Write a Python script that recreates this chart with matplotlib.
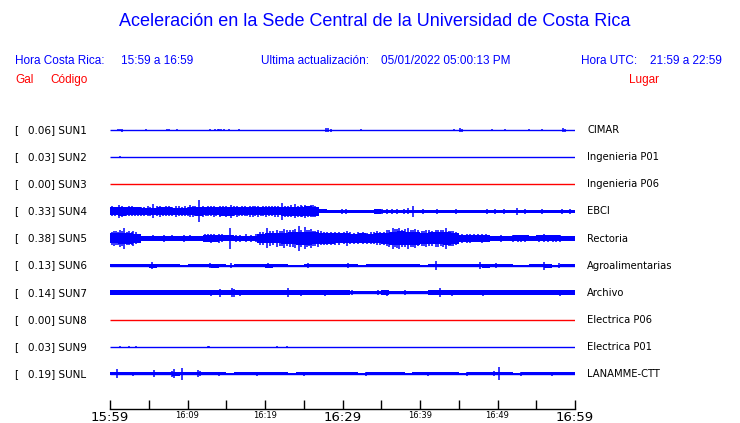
import numpy as np
import matplotlib
matplotlib.use("Agg")
import matplotlib.pyplot as plt

W, H = 740, 423

# station info (top to bottom)
codes = ["SUN1", "SUN2", "SUN3", "SUN4", "SUN5", "SUN6", "SUN7", "SUN8", "SUN9", "SUNL"]
peaks = [0.06, 0.03, 0.00, 0.33, 0.38, 0.13, 0.14, 0.00, 0.03, 0.19]
places = ["CIMAR", "Ingenieria P01", "Ingenieria P06", "EBCI", "Rectoria",
          "Agroalimentarias", "Archivo", "Electrica P06", "Electrica P01", "LANAMME-CTT"]
dead = ["SUN3", "SUN8"]

tick_min = [0, 5, 10, 15, 20, 25, 30, 35, 40, 45, 50, 55, 60]
tick_lab = ["15:59", "", "16:09", "", "16:19", "", "16:29", "", "16:39", "", "16:49", "", "16:59"]

# band level per minute (Gal)
core_sun4 = [0.12, 0.13, 0.12, 0.12, 0.105, 0.105, 0.12, 0.12, 0.11, 0.11,
             0.12, 0.13, 0.12, 0.12, 0.13, 0.13, 0.12, 0.12, 0.12, 0.12,
             0.12, 0.12, 0.13, 0.14, 0.14, 0.15, 0.14, 0.06, 0.055, 0.055,
             0.055, 0.055, 0.055, 0.055, 0.07, 0.055, 0.055, 0.055, 0.055, 0.055,
             0.055, 0.055, 0.055, 0.055, 0.055, 0.055, 0.055, 0.055, 0.055, 0.055,
             0.055, 0.055, 0.055, 0.055, 0.055, 0.055, 0.055, 0.055, 0.055, 0.05]
core_sun5 = [0.15, 0.16, 0.16, 0.14, 0.065, 0.065, 0.07, 0.065, 0.065, 0.065,
             0.065, 0.07, 0.10, 0.10, 0.09, 0.09, 0.08, 0.08, 0.08, 0.13,
             0.15, 0.15, 0.16, 0.18, 0.20, 0.20, 0.18, 0.16, 0.16, 0.15,
             0.15, 0.14, 0.15, 0.14, 0.15, 0.17, 0.20, 0.21, 0.20, 0.20,
             0.17, 0.18, 0.18, 0.19, 0.17, 0.11, 0.10, 0.10, 0.10, 0.07,
             0.065, 0.065, 0.09, 0.09, 0.07, 0.09, 0.09, 0.09, 0.065, 0.065]
core_sun6 = [0.05, 0.04, 0.05, 0.05, 0.05, 0.06, 0.05, 0.05, 0.05, 0.02,
             0.05, 0.04, 0.05, 0.06, 0.05, 0.02, 0.05, 0.05, 0.04, 0.05,
             0.06, 0.05, 0.05, 0.02, 0.03, 0.05, 0.05, 0.05, 0.04, 0.05,
             0.05, 0.05, 0.02, 0.05, 0.05, 0.05, 0.04, 0.05, 0.05, 0.05,
             0.02, 0.05, 0.05, 0.05, 0.05, 0.04, 0.05, 0.05, 0.06, 0.05,
             0.05, 0.04, 0.02, 0.03, 0.05, 0.05, 0.06, 0.02, 0.05, 0.05]
core_sun7 = [0.065, 0.065, 0.065, 0.065, 0.065, 0.065, 0.065, 0.065, 0.065, 0.065,
             0.065, 0.065, 0.065, 0.065, 0.065, 0.075, 0.065, 0.065, 0.065, 0.065,
             0.065, 0.065, 0.065, 0.065, 0.065, 0.065, 0.065, 0.065, 0.065, 0.065,
             0.065, 0.055, 0.055, 0.055, 0.055, 0.065, 0.055, 0.055, 0.055, 0.055,
             0.055, 0.065, 0.065, 0.065, 0.065, 0.065, 0.065, 0.065, 0.065, 0.065,
             0.065, 0.065, 0.065, 0.065, 0.065, 0.065, 0.065, 0.065, 0.065, 0.07]
core_sunl = [0.05, 0.05, 0.04, 0.05, 0.05, 0.05, 0.05, 0.05, 0.06, 0.05,
             0.04, 0.05, 0.045, 0.045, 0.04, 0.02, 0.045, 0.04, 0.045, 0.045,
             0.04, 0.045, 0.045, 0.02, 0.045, 0.045, 0.04, 0.045, 0.045, 0.045,
             0.04, 0.045, 0.02, 0.045, 0.045, 0.04, 0.045, 0.045, 0.02, 0.045,
             0.045, 0.04, 0.045, 0.045, 0.045, 0.02, 0.045, 0.045, 0.045, 0.045,
             0.05, 0.045, 0.02, 0.045, 0.045, 0.04, 0.045, 0.045, 0.045, 0.045]
cores = [None, None, None, core_sun4, core_sun5, core_sun6, core_sun7, None, None, core_sunl]

# spikes: (minute, half amplitude in Gal)
spk_sun1 = [(1.0, 0.03), (1.3, 0.03), (1.6, 0.04), (4.6, 0.03), (7.4, 0.035), (7.6, 0.035),
            (8.6, 0.03), (12.9, 0.03), (13.6, 0.03), (13.9, 0.035), (14.1, 0.035), (14.3, 0.03),
            (14.7, 0.03), (15.3, 0.03), (16.6, 0.03), (17.85, 0.02), (18.5, 0.02), (20.8, 0.02),
            (23.1, 0.02), (25.3, 0.02), (27.9, 0.06), (28.1, 0.06), (28.5, 0.04), (29.2, 0.02),
            (30.75, 0.02), (31.4, 0.02), (32.4, 0.025), (39.0, 0.02), (44.4, 0.03), (45.2, 0.06),
            (45.4, 0.05), (47.7, 0.02), (48.3, 0.02), (49.3, 0.03), (51.0, 0.03), (54.0, 0.03),
            (55.7, 0.03), (58.5, 0.06), (58.7, 0.05)]
spk_sun2 = [(1.3, 0.03)]
spk_sun4 = [(1.1, 0.19), (2.5, 0.15), (3.2, 0.14), (5.6, 0.21), (7.2, 0.15), (8.5, 0.16),
            (10.3, 0.18), (11.5, 0.33), (13.0, 0.15), (14.2, 0.16), (15.6, 0.20), (17.0, 0.15),
            (18.0, 0.16), (19.1, 0.17), (20.5, 0.15), (21.3, 0.16), (22.2, 0.25), (23.9, 0.21),
            (24.8, 0.17), (25.5, 0.16), (26.2, 0.18), (29.9, 0.08), (30.5, 0.08), (34.6, 0.08),
            (35.1, 0.08), (35.7, 0.08), (36.4, 0.08), (37.0, 0.08), (37.9, 0.08), (38.5, 0.09),
            (39.1, 0.16), (40.4, 0.08), (42.2, 0.08), (44.7, 0.08), (48.6, 0.08), (49.7, 0.08),
            (50.8, 0.08), (52.5, 0.10), (53.6, 0.08), (55.7, 0.08), (58.3, 0.08), (59.4, 0.07)]
fringe_sun4 = [(0.3, 0.15), (0.7, 0.14), (1.6, 0.16), (2.0, 0.14), (2.8, 0.15), (3.6, 0.13),
               (4.0, 0.14), (4.4, 0.13), (4.9, 0.15), (5.2, 0.14), (6.0, 0.15), (6.4, 0.16),
               (6.8, 0.14), (7.6, 0.15), (8.0, 0.14), (8.9, 0.15), (9.3, 0.14), (9.7, 0.15),
               (10.0, 0.14), (10.7, 0.16), (11.0, 0.15), (12.0, 0.16), (12.4, 0.14), (12.7, 0.15),
               (13.4, 0.16), (13.7, 0.14), (14.6, 0.15), (15.0, 0.16), (15.3, 0.14), (16.0, 0.15),
               (16.4, 0.16), (16.7, 0.14), (17.4, 0.15), (17.7, 0.14), (18.4, 0.16), (18.7, 0.15),
               (19.5, 0.14), (19.8, 0.15), (20.1, 0.16), (20.9, 0.15), (21.7, 0.16), (22.6, 0.17),
               (23.0, 0.16), (23.4, 0.18), (24.3, 0.17), (24.6, 0.18), (25.1, 0.19), (25.9, 0.18),
               (26.5, 0.16), (26.8, 0.14)]
spk_sun5 = [(0.5, 0.22), (1.3, 0.25), (1.85, 0.32), (3.0, 0.22), (7.0, 0.10), (9.5, 0.10),
            (13.0, 0.13), (14.0, 0.14), (15.5, 0.32), (17.5, 0.12), (20.3, 0.30), (21.5, 0.26),
            (22.5, 0.28), (23.9, 0.28), (24.4, 0.38), (25.1, 0.33), (25.9, 0.29), (26.8, 0.25),
            (30.6, 0.23), (34.5, 0.21), (35.3, 0.20), (36.5, 0.32), (37.3, 0.32), (38.5, 0.32),
            (39.4, 0.28), (40.8, 0.26), (42.0, 0.26), (43.3, 0.32), (44.2, 0.22), (46.0, 0.13),
            (47.5, 0.12), (50.5, 0.10), (53.0, 0.11), (56.0, 0.12), (58.0, 0.11)]
fringe_sun5 = [(0.2, 0.19), (0.8, 0.21), (1.0, 0.2), (1.6, 0.22), (2.2, 0.2), (2.5, 0.21),
               (2.8, 0.19), (3.3, 0.18), (4.5, 0.085), (5.5, 0.09), (6.3, 0.085), (8.0, 0.09),
               (8.7, 0.085), (10.3, 0.09), (11.2, 0.085), (12.3, 0.12), (12.6, 0.12), (13.4, 0.12),
               (14.5, 0.12), (16.2, 0.11), (16.8, 0.11), (18.2, 0.11), (18.8, 0.12), (19.3, 0.19),
               (19.7, 0.2), (20.7, 0.22), (21.0, 0.21), (21.9, 0.23), (22.2, 0.22), (22.9, 0.24),
               (23.2, 0.25), (23.6, 0.26), (24.7, 0.26), (25.4, 0.25), (25.7, 0.24), (26.2, 0.23),
               (26.5, 0.22), (27.2, 0.21), (27.6, 0.2), (28.0, 0.2), (28.5, 0.19), (29.0, 0.19),
               (29.5, 0.19), (30.2, 0.18), (31.0, 0.18), (31.5, 0.17), (32.0, 0.18), (32.6, 0.18),
               (33.1, 0.17), (33.7, 0.18), (34.1, 0.18), (34.8, 0.2), (35.7, 0.24), (36.0, 0.26),
               (36.8, 0.27), (37.0, 0.28), (37.7, 0.26), (38.0, 0.27), (38.9, 0.25), (39.1, 0.26),
               (39.7, 0.24), (40.2, 0.22), (40.5, 0.23), (41.1, 0.24), (41.5, 0.23), (42.3, 0.25),
               (42.7, 0.24), (43.0, 0.25), (43.7, 0.23), (44.0, 0.22), (44.6, 0.2), (45.4, 0.13),
               (46.5, 0.13), (47.0, 0.12), (48.0, 0.13), (48.5, 0.12), (49.5, 0.085), (51.2, 0.085),
               (52.0, 0.11), (52.6, 0.11), (53.5, 0.1), (54.2, 0.085), (55.3, 0.11), (56.5, 0.11),
               (57.2, 0.11), (57.6, 0.1), (59.0, 0.085), (59.5, 0.085)]
spk_sun6 = [(4.5, 0.05), (5.4, 0.11), (11.0, 0.05), (12.9, 0.08), (15.6, 0.07), (18.0, 0.05),
            (20.4, 0.07), (25.6, 0.07), (27.0, 0.05), (30.75, 0.07), (35.0, 0.05), (42.0, 0.13),
            (45.0, 0.05), (47.7, 0.11), (49.8, 0.08), (51.0, 0.05), (56.0, 0.12), (57.9, 0.07),
            (59.0, 0.05)]
spk_sun7 = [(0.56, 0.08), (2.9, 0.08), (4.1, 0.08), (5.4, 0.08), (6.8, 0.075), (8.1, 0.075),
            (8.8, 0.075), (10.6, 0.075), (11.8, 0.075), (13.0, 0.09), (14.2, 0.12), (15.8, 0.13),
            (16.0, 0.12), (16.8, 0.09), (23.0, 0.13), (24.7, 0.09), (26.2, 0.08), (27.7, 0.09),
            (28.2, 0.08), (30.3, 0.08), (31.2, 0.08), (34.6, 0.08), (35.7, 0.09), (38.0, 0.075),
            (42.6, 0.14), (44.1, 0.09), (45.3, 0.08), (48.1, 0.09), (58.1, 0.09), (59.2, 0.08),
            (59.6, 0.08)]
spk_sun9 = [(1.3, 0.02), (2.4, 0.02), (3.3, 0.02), (12.6, 0.03), (12.75, 0.03), (21.5, 0.03),
            (22.9, 0.02)]
spk_sunl = [(0.95, 0.14), (3.0, 0.06), (5.7, 0.11), (8.0, 0.09), (8.3, 0.14), (9.3, 0.18),
            (11.4, 0.10), (11.6, 0.08), (14.0, 0.06), (19.0, 0.06), (25.0, 0.06), (33.0, 0.06),
            (41.0, 0.06), (46.0, 0.06), (49.5, 0.07), (50.2, 0.19), (53.0, 0.06), (57.0, 0.06)]
spikes = [spk_sun1, spk_sun2, [], spk_sun4 + fringe_sun4, spk_sun5 + fringe_sun5,
          spk_sun6, spk_sun7, [], spk_sun9, spk_sunl]

BLUE = "#0000ff"
RED = "#ff0000"
GAIN = 1.234  # trace spacing units per Gal


def fx(x):
    return x / W


def fy(y):
    return 1 - y / H


fig = plt.figure(figsize=(W / 100, H / 100), dpi=100)
fig.patch.set_facecolor("white")

# trace area: x 110..575 px, y 100..409 px
ax = fig.add_axes([fx(110), fy(409), 465 / W, 309 / H])
ax.set_xlim(0, 60)
ax.set_ylim(-1.305, 10.12)
for s in ["top", "left", "right"]:
    ax.spines[s].set_visible(False)
ax.spines["bottom"].set_linewidth(1.0)
ax.set_yticks([])

edges = np.arange(61)
n = len(codes)
for i in range(n):
    y0 = n - 1 - i
    col = RED if codes[i] in dead else BLUE
    c = cores[i]
    if c is not None:
        a = np.array(c + [c[-1]]) * GAIN
        ax.fill_between(edges, y0 - a, y0 + a, step="post", color=col, lw=0)
    ax.plot([0, 60], [y0, y0], color=col, lw=1.0, solid_capstyle="butt")
    if spikes[i]:
        t = [p[0] for p in spikes[i]]
        amp = np.array([p[1] for p in spikes[i]]) * GAIN
        ax.vlines(t, y0 - amp, y0 + amp, color=col, lw=1.1)

    yc = fy(130.3 + 27.05 * i)
    fig.text(fx(14), yc, "[", fontsize=7.5, va="center", ha="left")
    fig.text(fx(27.5), yc, "%4.2f] %s" % (peaks[i], codes[i]), fontsize=7.5, va="center", ha="left")
    fig.text(fx(587), yc, places[i], fontsize=7.2, va="center", ha="left")

ax.set_xticks(tick_min)
ax.set_xticklabels(tick_lab)
ax.tick_params(axis="x", direction="in", length=6.5, width=1.0, pad=1.2, colors="black")
for k, lab in enumerate(ax.get_xticklabels()):
    if tick_min[k] in (0, 30, 60):
        lab.set_fontsize(9.5)
    else:
        lab.set_fontsize(6)

# header
hf = "Liberation Sans"
fig.text(0.5 + 5 / W, fy(22), "Aceleración en la Sede Central de la Universidad de Costa Rica",
         fontsize=13, color=BLUE, ha="center", va="center", family=hf)
fig.text(fx(15), fy(61), "Hora Costa Rica:", fontsize=8.5, color=BLUE, va="center", family=hf)
fig.text(fx(121), fy(61), "15:59 a 16:59", fontsize=8.5, color=BLUE, va="center", family=hf)
fig.text(fx(261), fy(61), "Ultima actualización:", fontsize=8.5, color=BLUE, va="center", family=hf)
fig.text(fx(381), fy(61), "05/01/2022 05:00:13 PM", fontsize=8.5, color=BLUE, va="center", family=hf)
fig.text(fx(581), fy(61), "Hora UTC:", fontsize=8.5, color=BLUE, va="center", family=hf)
fig.text(fx(650), fy(61), "21:59 a 22:59", fontsize=8.5, color=BLUE, va="center", family=hf)
fig.text(fx(15), fy(80), "Gal", fontsize=8.5, color=RED, va="center", family=hf)
fig.text(fx(50), fy(80), "Código", fontsize=8.5, color=RED, va="center", family=hf)
fig.text(fx(629), fy(80), "Lugar", fontsize=8.5, color=RED, va="center", family=hf)

fig.savefig("out.png", dpi=100, facecolor="white")
